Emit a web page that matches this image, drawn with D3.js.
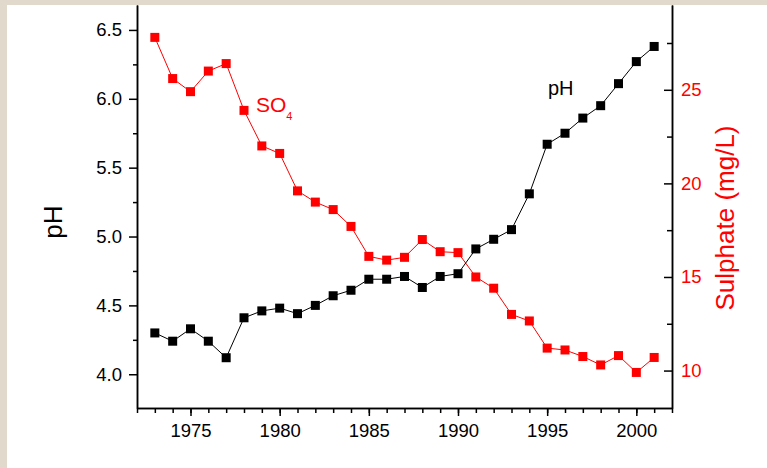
<!DOCTYPE html>
<html>
<head>
<meta charset="utf-8">
<script src="https://cdn.jsdelivr.net/npm/d3@7"></script>
<style>
  body { margin: 0; background: #e1d9cc; }
  svg { display: block; font-family: "Liberation Sans", Arial, sans-serif; }
  .axis path, .axis line { stroke: #000; stroke-width: 1.5; }
  .axis text { font-size: 18.5px; fill: #000; }
  .axis.red text { fill: #ff0000; }
</style>
</head>
<body>
<svg width="767" height="468"></svg>
<script>
// data
var years = [1973, 1974, 1975, 1976, 1977, 1978, 1979, 1980, 1981, 1982,
             1983, 1984, 1985, 1986, 1987, 1988, 1989, 1990, 1991, 1992,
             1993, 1994, 1995, 1996, 1997, 1998, 1999, 2000, 2001];
var phValues = [4.30, 4.24, 4.33, 4.24, 4.12, 4.41, 4.46, 4.48, 4.44, 4.50,
                4.57, 4.61, 4.69, 4.69, 4.71, 4.63, 4.71, 4.73, 4.91, 4.98,
                5.05, 5.31, 5.67, 5.75, 5.86, 5.95, 6.11, 6.27, 6.38];
var sulphateValues = [27.8, 25.6, 24.9, 26.0, 26.4, 23.9, 22.0, 21.6, 19.6, 19.0,
                      18.6, 17.7, 16.1, 15.9, 16.05, 17.0, 16.35, 16.3, 15.0, 14.4,
                      13.0, 12.65, 11.2, 11.1, 10.75, 10.3, 10.8, 9.9, 10.7];
var yearTicks = [1975, 1980, 1985, 1990, 1995, 2000];
var phTicks = [4.0, 4.5, 5.0, 5.5, 6.0, 6.5];
var sulphateTicks = [10, 15, 20, 25];

var svg = d3.select("svg");
var plot = { left: 137, right: 672, top: 5, bottom: 408 };

svg.append("rect")
    .attr("x", 7).attr("y", 5)
    .attr("width", 760).attr("height", 463)
    .attr("fill", "#fff");

var x = d3.scaleLinear().domain([1972, 2002]).range([plot.left, plot.right]);
var yPh = d3.scaleLinear().domain([3.755, 6.681]).range([plot.bottom, plot.top]);
var ySo = d3.scaleLinear().domain([8, 29.53]).range([plot.bottom, plot.top]);

// minor ticks first, then major axes on top
svg.append("g").attr("class", "axis")
    .attr("transform", "translate(0," + plot.bottom + ")")
    .call(d3.axisBottom(x).tickValues(d3.range(1972, 2003)).tickSize(5).tickFormat("").tickSizeOuter(0));
svg.append("g").attr("class", "axis")
    .attr("transform", "translate(0," + plot.bottom + ")")
    .call(d3.axisBottom(x).tickValues(yearTicks).tickSize(8).tickPadding(8)
        .tickFormat(d3.format("d")).tickSizeOuter(0));

svg.append("g").attr("class", "axis")
    .attr("transform", "translate(" + plot.left + ",0)")
    .call(d3.axisLeft(yPh).tickValues(d3.range(4.25, 6.6, 0.5)).tickSize(4).tickFormat("").tickSizeOuter(0));
svg.append("g").attr("class", "axis")
    .attr("transform", "translate(" + plot.left + ",0)")
    .call(d3.axisLeft(yPh).tickValues(phTicks).tickSize(8).tickPadding(7)
        .tickFormat(d3.format(".1f")).tickSizeOuter(0));

svg.append("g").attr("class", "axis")
    .attr("transform", "translate(" + plot.right + ",0)")
    .call(d3.axisRight(ySo).tickValues([12.5, 17.5, 22.5, 27.5]).tickSize(-5).tickFormat("").tickSizeOuter(0));
svg.append("g").attr("class", "axis red")
    .attr("transform", "translate(" + plot.right + ",0)")
    .call(d3.axisRight(ySo).tickValues(sulphateTicks).tickSize(-8).tickPadding(9).tickSizeOuter(0));

function drawSeries(values, yScale, color) {
    var pts = years.map(function (yr, i) { return [x(yr), yScale(values[i])]; });
    svg.append("path")
        .attr("d", d3.line()(pts))
        .attr("fill", "none")
        .attr("stroke", color)
        .attr("stroke-width", 1);
    svg.append("g").selectAll("rect")
        .data(pts)
        .enter().append("rect")
        .attr("x", function (d) { return d[0] - 4.5; })
        .attr("y", function (d) { return d[1] - 4.5; })
        .attr("width", 9)
        .attr("height", 9)
        .attr("fill", color);
}
drawSeries(sulphateValues, ySo, "#ff0000");
drawSeries(phValues, yPh, "#000");

// axis titles
svg.append("text")
    .attr("transform", "translate(62,222) rotate(-90)")
    .attr("text-anchor", "middle")
    .attr("font-size", 26)
    .text("pH");
svg.append("text")
    .attr("transform", "translate(734,218) rotate(-90)")
    .attr("text-anchor", "middle")
    .attr("font-size", 26)
    .attr("fill", "#ff0000")
    .text("Sulphate (mg/L)");

// series labels
svg.append("text")
    .attr("x", 548).attr("y", 95)
    .attr("font-size", 20)
    .text("pH");
var so = svg.append("text")
    .attr("x", 256).attr("y", 112)
    .attr("font-size", 21)
    .attr("fill", "#ff0000");
so.append("tspan").text("SO");
so.append("tspan").attr("dy", 8).attr("font-size", 11).text("4");
</script>
</body>
</html>
